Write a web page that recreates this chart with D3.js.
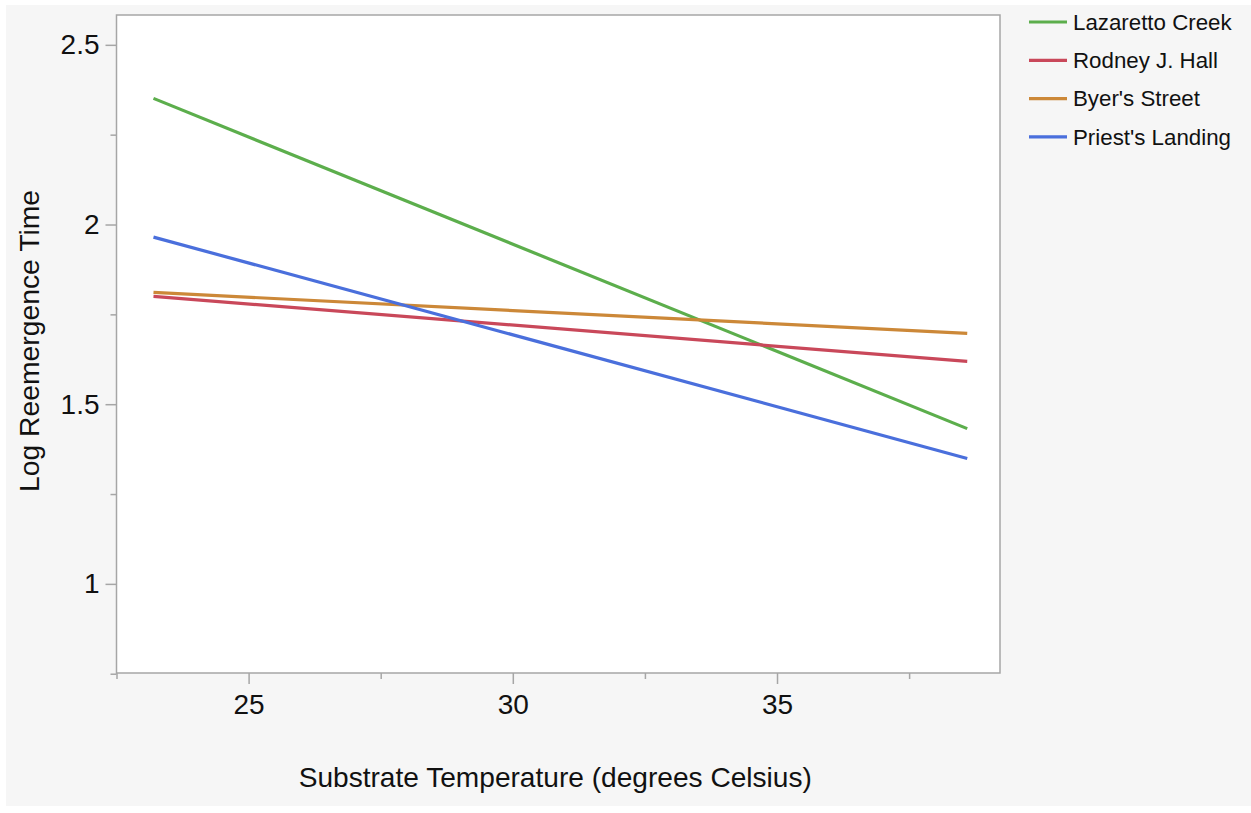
<!DOCTYPE html>
<html>
<head>
<meta charset="utf-8">
<script src="https://cdn.jsdelivr.net/npm/d3@7"></script>
<style>
  html, body { margin: 0; padding: 0; background: #ffffff; }
  svg { display: block; font-family: "Liberation Sans", Arial, Helvetica, sans-serif; }
</style>
</head>
<body>
<svg id="chart" width="1251" height="813"></svg>
<script>
// Fitted lines of log reemergence time against substrate temperature, one per site
const sites = ["Lazaretto Creek", "Rodney J. Hall", "Byer's Street", "Priest's Landing"];
const siteColors = ["#5cae4c", "#c9485a", "#cc8838", "#4a6fdc"];
const tempRange = [23.2, 38.6];
const startValues = [2.351, 1.800, 1.811, 1.965];
const endValues = [1.432, 1.619, 1.697, 1.349];
const yTicks = [1, 1.5, 2, 2.5];
const xTicks = [25, 30, 35];

const svg = d3.select("#chart");

// page panel
svg.append("rect").attr("x", 6).attr("y", 5).attr("width", 1245).attr("height", 801)
  .attr("fill", "#f6f6f6");

const plot = { left: 116.5, top: 15, right: 1000, bottom: 673 };

const x = d3.scaleLinear().domain([22.5, 39.22]).range([plot.left, plot.right]);
const y = d3.scaleLinear().domain([0.752, 2.583]).range([plot.bottom, plot.top]);

svg.append("rect")
  .attr("x", plot.left).attr("y", plot.top)
  .attr("width", plot.right - plot.left).attr("height", plot.bottom - plot.top)
  .attr("fill", "#ffffff").attr("stroke", "#a6a6a6").attr("stroke-width", 1.5);

// y axis: major ticks with labels, minor ticks every 0.25
const yMinor = d3.range(0.75, 2.6, 0.25).filter(v => !yTicks.some(t => Math.abs(t - v) < 1e-9));
const yAxis = svg.append("g").attr("transform", `translate(${plot.left},0)`);
yAxis.append("g")
  .call(d3.axisLeft(y).tickValues(yMinor).tickSize(6).tickFormat(""))
  .call(g => g.select(".domain").remove());
yAxis.append("g")
  .call(d3.axisLeft(y).tickValues(yTicks).tickSize(11).tickPadding(6).tickFormat(d3.format("")))
  .call(g => g.select(".domain").remove());
yAxis.selectAll(".tick line").attr("stroke", "#a6a6a6").attr("stroke-width", 1.5);
yAxis.selectAll(".tick text").attr("font-size", 28).attr("fill", "#111")
  .attr("font-family", "Liberation Sans, Arial, sans-serif");

// x axis: major ticks every 5, minor ticks in between
const xMinor = [22.5, 27.5, 32.5, 37.5];
const xAxis = svg.append("g").attr("transform", `translate(0,${plot.bottom})`);
xAxis.append("g")
  .call(d3.axisBottom(x).tickValues(xMinor).tickSize(6).tickFormat(""))
  .call(g => g.select(".domain").remove());
xAxis.append("g")
  .call(d3.axisBottom(x).tickValues(xTicks).tickSize(11).tickPadding(10).tickFormat(d3.format("")))
  .call(g => g.select(".domain").remove());
xAxis.selectAll(".tick line").attr("stroke", "#a6a6a6").attr("stroke-width", 1.5);
xAxis.selectAll(".tick text").attr("font-size", 28).attr("fill", "#111")
  .attr("font-family", "Liberation Sans, Arial, sans-serif");

// axis titles
svg.append("text")
  .attr("x", (plot.left + plot.right) / 2 - 3).attr("y", 787)
  .attr("text-anchor", "middle").attr("font-size", 28.1).attr("fill", "#111")
  .text("Substrate Temperature (degrees Celsius)");
svg.append("text")
  .attr("transform", `translate(39,${(plot.top + plot.bottom) / 2 - 3}) rotate(-90)`)
  .attr("text-anchor", "middle").attr("font-size", 28.3).attr("fill", "#111")
  .text("Log Reemergence Time");

// fitted lines
const line = d3.line().x(d => x(d[0])).y(d => y(d[1]));
sites.forEach((s, i) => {
  const pts = [[tempRange[0], startValues[i]], [tempRange[1], endValues[i]]];
  svg.append("path").datum(pts)
    .attr("d", line).attr("fill", "none")
    .attr("stroke", siteColors[i]).attr("stroke-width", 3.2);
});

// legend
const legend = svg.append("g").attr("transform", "translate(1029,22)");
sites.forEach((s, i) => {
  const row = legend.append("g").attr("transform", `translate(0,${i * 38.3})`);
  row.append("line").attr("x1", 0).attr("x2", 38).attr("y1", 0).attr("y2", 0)
    .attr("stroke", siteColors[i]).attr("stroke-width", 3.2);
  row.append("text").attr("x", 44).attr("y", 0).attr("dy", "0.35em")
    .attr("font-size", 22.3).attr("fill", "#111").text(s);
});
</script>
</body>
</html>
